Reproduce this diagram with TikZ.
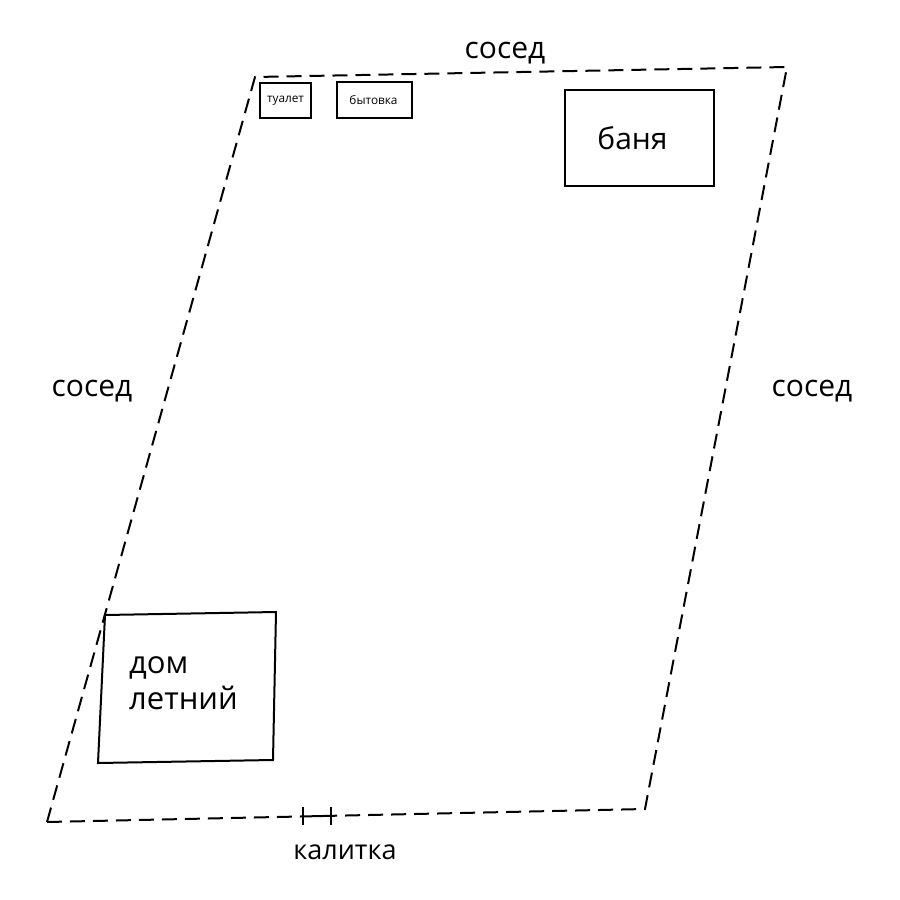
\documentclass[tikz,border=0pt]{standalone}
\usepackage{fontspec}
\setmainfont{Open Sans}
\usetikzlibrary{calc}
\begin{document}
\begin{tikzpicture}[x=1pt,y=-1pt,
  fence/.style={line width=2pt,dash pattern=on 15pt off 8pt},
  bld/.style={draw,line width=2pt,inner sep=0pt},
  big/.style={font=\fontsize{30}{34}\selectfont},
  small/.style={font=\fontsize{11.8}{13}\selectfont}]
\useasboundingbox (0,0) rectangle (900,900);
\coordinate (TL) at (255,77);
\coordinate (TR) at (787,67);
\coordinate (BR) at (645,809);
\coordinate (BL) at (47,822);
\coordinate (G1) at ($(BL)!0.428!(BR)$);
\coordinate (G2) at ($(BL)!0.475!(BR)$);
\draw[fence] (BL) -- (TL) -- (TR) -- (BR) -- (G2);
\draw[fence] (BL) -- (G1);
\draw[line width=2pt] (G1) -- (G2);
\draw[line width=1.6pt] ($(G1)+(0,-9)$) -- ($(G1)+(0,9)$);
\draw[line width=1.6pt] ($(G2)+(0,-9)$) -- ($(G2)+(0,9)$);
% buildings
\node[bld,minimum width=51pt,minimum height=35pt,small] (tualet) at (285.5,100.5) {\raisebox{-1.5pt}{туалет}};
\node[bld,minimum width=75pt,minimum height=36pt,small] (bytovka) at (374.5,100) {\raisebox{-1pt}{\hspace*{-2pt}бытовка}};
\node[bld,minimum width=149pt,minimum height=96pt,big] (banya) at (639.5,138) {\raisebox{-4pt}{\hspace*{-14pt}баня}};
\coordinate (D1) at (105,615);
\coordinate (D2) at (276,612);
\coordinate (D3) at (273,760);
\coordinate (D4) at (98,763);
\draw[line width=2pt] (D1) -- (D2) -- (D3) -- (D4) -- cycle;
\node[anchor=north west,align=left,inner sep=0pt,font=\fontsize{31}{36}\selectfont] (dom) at (129,656) {дом\\летний};
% labels
\node[big] (sosedT) at (505,53) {сосед};
\node[big] (sosedL) at (92,391) {сосед};
\node[big] (sosedR) at (812,391) {сосед};
\node[font=\fontsize{27}{30}\selectfont] (kalitka) at (345,852) {калитка};
\end{tikzpicture}
\end{document}
